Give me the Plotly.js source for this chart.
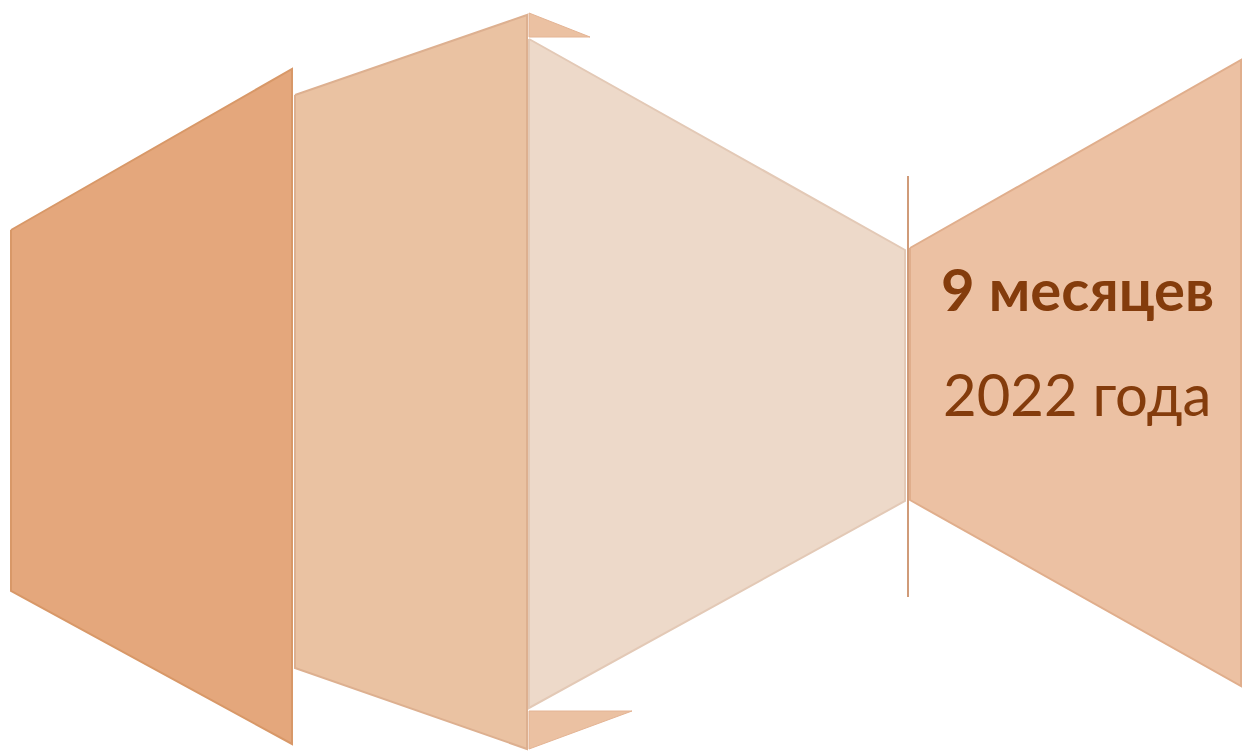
<!DOCTYPE html>
<html>
<head>
<meta charset="utf-8">
<script src="https://cdn.plot.ly/plotly-3.0.1.min.js"></script>
<style>html,body{margin:0;padding:0;background:#fff;}#chart{width:1242px;height:751px;}</style>
</head>
<body>
<div id="chart"></div>
<script>
// Panel outlines (diagram geometry in pixel-space units)
const panelX = [[11, 292, 292, 11], [295, 527, 527, 295], [529, 905, 905, 529], [910, 1241, 1241, 910]];
const panelY = [[230, 69, 744, 591], [95, 15, 749, 668], [39, 250, 501, 708], [248, 60, 686, 500]];
const panelColors = ['#E4A77C', '#EAC2A2', '#EDD9C9', '#ECC1A3'];
const panelEdges = ['#D89868', '#DDB090', '#E3C9B6', '#E0AE8C'];
const fragX = [[529, 590, 529], [529, 632, 529]];
const fragY = [[13, 37, 37], [711, 711, 749]];
const fragColor = '#EBC1A2';
const dividerX = [908, 908];
const dividerY = [176, 597];
const labelLines = ['<b>9 месяцев</b>', '2022 года'];
const labelX = [1077, 1077];
const labelY = [288, 393];

const traces = [];
panelX.forEach((xs, i) => {
  traces.push({
    x: xs.concat([xs[0]]), y: panelY[i].concat([panelY[i][0]]),
    type: 'scatter', mode: 'lines', fill: 'toself',
    fillcolor: panelColors[i], line: {color: panelEdges[i], width: 2},
    hoverinfo: 'skip', showlegend: false
  });
});
fragX.forEach((xs, i) => {
  traces.push({
    x: xs.concat([xs[0]]), y: fragY[i].concat([fragY[i][0]]),
    type: 'scatter', mode: 'lines', fill: 'toself',
    fillcolor: fragColor, line: {color: '#E4B494', width: 1},
    hoverinfo: 'skip', showlegend: false
  });
});
traces.push({
  x: dividerX, y: dividerY, type: 'scatter', mode: 'lines',
  line: {color: '#C07A4C', width: 1.5}, hoverinfo: 'skip', showlegend: false
});

const annotations = labelLines.map((t, i) => ({
  x: labelX[i], y: labelY[i], xref: 'x', yref: 'y', text: t, showarrow: false,
  xanchor: 'center', yanchor: 'middle',
  font: {family: 'Lato, "Open Sans", sans-serif', size: 58, color: '#843C0C'}
}));

const layout = {
  width: 1242, height: 751,
  margin: {l: 0, r: 0, t: 0, b: 0},
  paper_bgcolor: '#ffffff', plot_bgcolor: '#ffffff',
  xaxis: {range: [0, 1242], visible: false, fixedrange: true},
  yaxis: {range: [751, 0], visible: false, fixedrange: true},
  annotations: annotations,
  showlegend: false
};
Plotly.newPlot('chart', traces, layout, {displayModeBar: false, staticPlot: true});
</script>
</body>
</html>
